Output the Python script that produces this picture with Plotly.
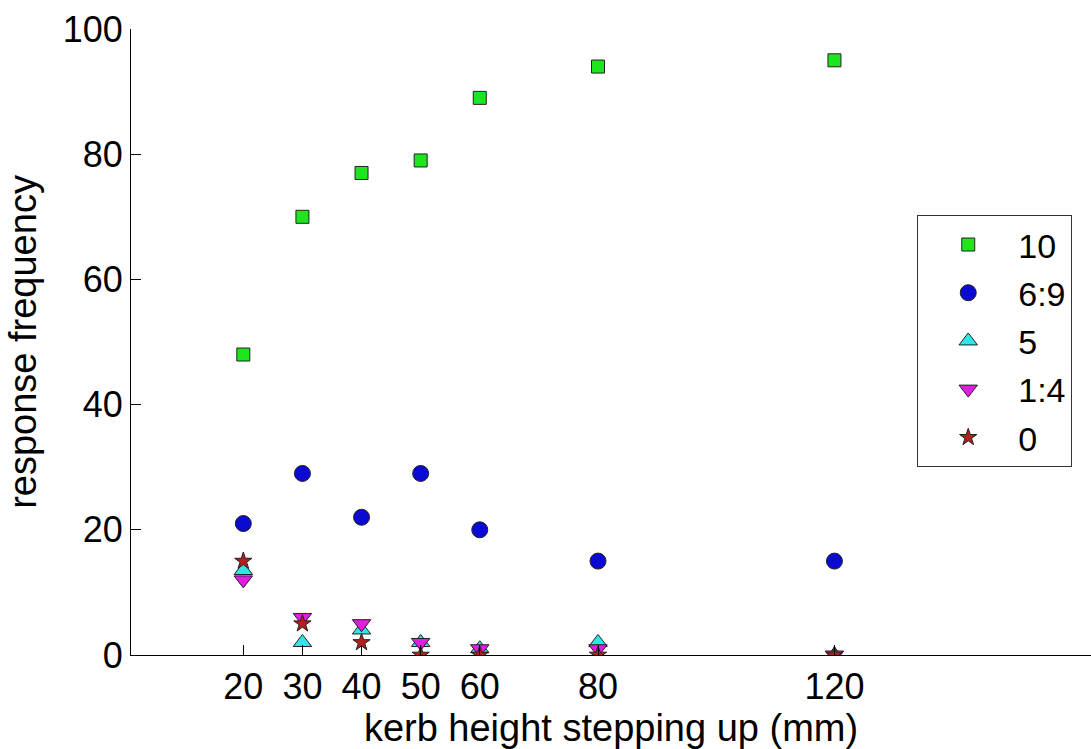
import plotly.graph_objects as go

heights = [20, 30, 40, 50, 60, 80, 120]
resp_10 = [48, 70, 77, 79, 89, 94, 95]
resp_6_9 = [21, 29, 22, 29, 20, 15, 15]
resp_5 = [13.5, 2, 4, 2, 1, 2, 0]
resp_1_4 = [12, 6, 5, 2, 1, 1, 0]
resp_0 = [15, 5, 2, 0, 0, 0, 0]

series = [
    ("10", resp_10, "square", "#1ee61e", 13),
    ("6:9", resp_6_9, "circle", "#0a0ad2", 16),
    ("5", resp_5, "triangle-up", "#2ee6e6", 16),
    ("1:4", resp_1_4, "triangle-down", "#e01ee0", 16),
    ("0", resp_0, "star", "#b41e1e", 13),
]

fig = go.Figure()
for i, (name, vals, sym, col, sz) in enumerate(series):
    fig.add_trace(go.Scatter(
        x=heights, y=vals, mode="markers", name=name,
        legendgroup=f"g{i}",
        marker=dict(symbol=sym, color=col, size=sz,
                    line=dict(color="#222222", width=1)),
    ))

font = "Liberation Sans, Arial, sans-serif"
fig.update_layout(
    width=1091, height=749,
    margin=dict(l=131, r=0, t=29, b=94),
    paper_bgcolor="white", plot_bgcolor="white",
    font=dict(family=font, size=36, color="black"),
    showlegend=True,
    legend=dict(x=0.819, y=0.703, xanchor="left", yanchor="top",
                bgcolor="white", bordercolor="#333333", borderwidth=1,
                font=dict(size=34), tracegroupgap=1, itemwidth=90),
    xaxis=dict(range=[1.0, 163.4], tickvals=heights,
               ticktext=[str(h) for h in heights],
               ticks="inside", ticklen=10, tickcolor="black",
               tickfont=dict(size=36),
               showline=True, linecolor="black", linewidth=1,
               showgrid=False, zeroline=False,
               title=dict(text="kerb height stepping up (mm)", font=dict(size=38), standoff=3)),
    yaxis=dict(range=[0, 100], tickvals=[0, 20, 40, 60, 80, 100],
               ticks="inside", ticklen=10, tickcolor="black",
               tickfont=dict(size=36),
               showline=True, linecolor="black", linewidth=1,
               showgrid=False, zeroline=False,
               title=dict(text="response frequency", font=dict(size=38), standoff=14)),
)

fig.write_html("out.html")
